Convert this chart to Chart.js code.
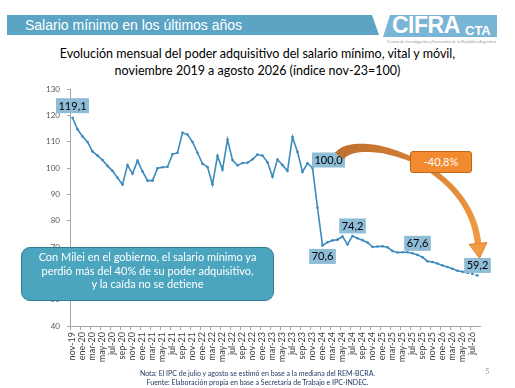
<!DOCTYPE html>
<html lang="es">
<head>
<meta charset="utf-8">
<script src="https://cdn.jsdelivr.net/npm/chart.js@4"></script>
<style>
  html, body { margin: 0; padding: 0; background: #fff; }
  body { width: 515px; height: 388px; position: relative; overflow: hidden; font-family: Lato, 'Open Sans', sans-serif; }
  #chart { position: absolute; left: 0; top: 0; }
  .band { position: absolute; left: 7px; top: 15px; width: 372px; height: 20px; background: #5ba4c4;
          clip-path: polygon(0 0, 365px 0, 372px 100%, 0 100%); }
  .band span { position: absolute; left: 18px; top: 2px; color: #fff; font: 14px 'Liberation Sans', Arial, sans-serif; }
  .logo { position: absolute; left: 383px; top: 15px; width: 114px; height: 22px; background: #79b5d6;
          clip-path: polygon(7px 0, 100% 0, 100% 100%, 0 100%); }
  .logo .big { position: absolute; left: 9px; top: -3px; color: #fff; font: bold 23px 'Liberation Sans', Arial, sans-serif; letter-spacing: -0.5px; }
  .logo .small { position: absolute; left: 82px; top: 8px; color: #fff; font: bold 13px 'Liberation Sans', Arial, sans-serif; }
  .logo-sub { position: absolute; left: 387px; top: 39px; color: #9a9a9a; font-size: 4px; white-space: nowrap; }
  .titulo { position: absolute; left: 0; top: 45px; width: 515px; text-align: center; font-size: 12.5px; line-height: 17px; color: #000; }
  .callout { position: absolute; left: 21px; top: 247px; width: 251px; height: 50px; background: #4ba5be;
             border: 1.5px solid #2f7c93; border-radius: 9px; color: #fff; text-align: center;
             font-size: 11px; line-height: 13.5px; padding-top: 2px; }
  .pct { position: absolute; left: 410px; top: 151px; width: 60px; height: 20px; background: #f28a30;
         border: 1px solid #c0661c; border-radius: 3px; color: #fff; text-align: center; font-size: 11px; line-height: 20px; }
  .notas { position: absolute; left: 0; top: 369px; width: 515px; text-align: center; font-size: 7px; line-height: 9px; color: #1f3864; }
  .pagina { position: absolute; left: 485px; top: 366px; font-size: 8px; color: #a6a6a6; }
</style>
</head>
<body>
<div class="band"><span>Salario mínimo en los últimos años</span></div>
<div class="logo"><span class="big">CIFRA</span><span class="small">CTA</span></div>
<div class="logo-sub">Centro de Investigación y Formación de la República Argentina</div>
<div class="titulo">Evolución mensual del poder adquisitivo del salario mínimo, vital y móvil,<br>noviembre 2019 a agosto 2026 (índice nov-23=100)</div>
<canvas id="chart" width="515" height="388"></canvas>
<div class="callout">Con Milei en el gobierno, el salario mínimo ya<br>perdió más del 40% de su poder adquisitivo,<br>y la caída no se detiene</div>
<div class="pct">-40,8%</div>
<div class="notas">Nota: El IPC de julio y agosto se estimó en base a la mediana del REM-BCRA.<br>Fuente: Elaboración propia en base a Secretaría de Trabajo e IPC-INDEC.</div>
<div class="pagina">5</div>

<script>
// meses (nov-19 a ago-26)
const meses = [
    'nov-19', 'dic-19',
    'ene-20', 'feb-20', 'mar-20', 'abr-20', 'may-20', 'jun-20', 'jul-20', 'ago-20', 'sep-20', 'oct-20', 'nov-20', 'dic-20',
    'ene-21', 'feb-21', 'mar-21', 'abr-21', 'may-21', 'jun-21', 'jul-21', 'ago-21', 'sep-21', 'oct-21', 'nov-21', 'dic-21',
    'ene-22', 'feb-22', 'mar-22', 'abr-22', 'may-22', 'jun-22', 'jul-22', 'ago-22', 'sep-22', 'oct-22', 'nov-22', 'dic-22',
    'ene-23', 'feb-23', 'mar-23', 'abr-23', 'may-23', 'jun-23', 'jul-23', 'ago-23', 'sep-23', 'oct-23', 'nov-23', 'dic-23',
    'ene-24', 'feb-24', 'mar-24', 'abr-24', 'may-24', 'jun-24', 'jul-24', 'ago-24', 'sep-24', 'oct-24', 'nov-24', 'dic-24',
    'ene-25', 'feb-25', 'mar-25', 'abr-25', 'may-25', 'jun-25', 'jul-25', 'ago-25', 'sep-25', 'oct-25', 'nov-25', 'dic-25',
    'ene-26', 'feb-26', 'mar-26', 'abr-26', 'may-26', 'jun-26', 'jul-26', 'ago-26'
];

// índice salario mínimo real (nov-23 = 100)
const indice = [
    119.1, 114.7,
    112.0, 109.9, 106.3, 104.7, 103.0, 100.8, 98.9, 96.3, 93.7, 101.1, 97.8, 102.8,
    98.7, 95.2, 95.2, 99.9, 100.3, 100.5, 105.2, 105.8, 113.4, 112.7, 109.9, 105.8,
    101.6, 100.4, 93.8, 104.6, 99.4, 110.8, 103.0, 101.0, 101.9, 102.0, 103.3, 105.1,
    104.7, 102.2, 96.7, 103.2, 101.1, 98.9, 111.8, 106.1, 98.5, 101.8, 100.0, 84.9,
    70.6, 71.8, 72.5, 72.8, 74.0, 71.0, 74.2, 73.3, 72.6, 71.7, 70.0, 70.2,
    70.3, 69.9, 68.5, 67.9, 68.0, 68.0, 67.6, 67.0, 66.1, 64.6, 64.3, 63.7,
    63.0, 62.4, 61.7, 61.0, 60.6, 60.2, 59.8, 59.2
];

// meses con IPC estimado (desde este índice la línea va punteada)
const desdeEstimado = 79;

// puntos con etiqueta
const puntosEtiqueta = [0, 48, 50, 56, 68, 81];
const yTicks = [40, 50, 60, 70, 80, 90, 100, 110, 120, 130];

const azul = '#3d8bbd';

// desplazamiento de cada etiqueta respecto de su punto
const posEtiqueta = {
    0: { dx: 0, dy: -12 },
    48: { dx: 16, dy: -8 },
    50: { dx: 0, dy: 11 },
    56: { dx: 0, dy: -10 },
    68: { dx: 5, dy: -10 },
    81: { dx: 0, dy: -10 }
};

const fmt = v => v.toFixed(1).replace('.', ',');

const etiquetasPlugin = {
    id: 'etiquetas',
    afterDatasetsDraw(chart) {
        const ctx = chart.ctx;
        const meta = chart.getDatasetMeta(0);
        ctx.save();
        ctx.font = '11px Lato';
        ctx.textAlign = 'center';
        ctx.textBaseline = 'middle';
        puntosEtiqueta.forEach(i => {
            const p = meta.data[i];
            const off = posEtiqueta[i];
            const txt = fmt(indice[i]);
            const w = ctx.measureText(txt).width + 5;
            const h = 15;
            const cx = p.x + off.dx;
            const cy = p.y + off.dy;
            ctx.fillStyle = '#8fbcd6';
            ctx.fillRect(cx - w / 2, cy - h / 2, w, h);
            ctx.fillStyle = '#000';
            ctx.fillText(txt, cx, cy + 0.5);
        });
        ctx.restore();
    }
};

// flecha curva naranja de 100,0 a 59,2
const flechaPlugin = {
    id: 'flecha',
    afterDraw(chart) {
        const ctx = chart.ctx;
        const xs = chart.scales.x, ys = chart.scales.y;
        const xa = xs.getPixelForValue(48), ya = ys.getPixelForValue(100);
        const xb = xs.getPixelForValue(81), yb = ys.getPixelForValue(59.2);
        const P0 = [xa + 27, ya - 12];
        const P1 = [xa + 45, ya - 36];
        const P2 = [xb - 8, ya - 7];
        const P3 = [xb + 0.5, yb - 32];
        const bez = t => {
            const u = 1 - t;
            return [
                u * u * u * P0[0] + 3 * u * u * t * P1[0] + 3 * u * t * t * P2[0] + t * t * t * P3[0],
                u * u * u * P0[1] + 3 * u * u * t * P1[1] + 3 * u * t * t * P2[1] + t * t * t * P3[1]
            ];
        };
        const der = t => {
            const u = 1 - t;
            return [
                3 * u * u * (P1[0] - P0[0]) + 6 * u * t * (P2[0] - P1[0]) + 3 * t * t * (P3[0] - P2[0]),
                3 * u * u * (P1[1] - P0[1]) + 6 * u * t * (P2[1] - P1[1]) + 3 * t * t * (P3[1] - P2[1])
            ];
        };
        const ancho = t => t < 0.5 ? 11 - 12 * t : 5 + 3 * (t - 0.5);
        const izq = [], der2 = [];
        const N = 60;
        for (let k = 0; k <= N; k++) {
            const t = k / N;
            const b = bez(t), d = der(t);
            const l = Math.hypot(d[0], d[1]);
            const n = [-d[1] / l, d[0] / l];
            const w = ancho(t) / 2;
            izq.push([b[0] + n[0] * w, b[1] + n[1] * w]);
            der2.push([b[0] - n[0] * w, b[1] - n[1] * w]);
        }
        ctx.save();
        const grad = ctx.createLinearGradient(P0[0], P0[1], P3[0], P3[1]);
        grad.addColorStop(0, '#c0702f');
        grad.addColorStop(1, '#f39a40');
        ctx.fillStyle = grad;
        ctx.beginPath();
        izq.forEach((p, k) => k ? ctx.lineTo(p[0], p[1]) : ctx.moveTo(p[0], p[1]));
        der2.reverse().forEach(p => ctx.lineTo(p[0], p[1]));
        ctx.closePath();
        ctx.fill();

        // punta
        const d = der(1);
        const l = Math.hypot(d[0], d[1]);
        const T = [d[0] / l, d[1] / l];
        const n = [-T[1], T[0]];
        ctx.fillStyle = '#f39a45';
        ctx.strokeStyle = '#cf7428';
        ctx.lineWidth = 0.8;
        ctx.beginPath();
        ctx.moveTo(P3[0] + n[0] * 9, P3[1] + n[1] * 9);
        ctx.lineTo(P3[0] + T[0] * 15, P3[1] + T[1] * 15);
        ctx.lineTo(P3[0] - n[0] * 9, P3[1] - n[1] * 9);
        ctx.closePath();
        ctx.fill();
        ctx.stroke();
        ctx.restore();
    }
};

new Chart(document.getElementById('chart'), {
    type: 'line',
    data: {
        labels: meses,
        datasets: [{
            data: indice,
            borderColor: azul,
            backgroundColor: azul,
            borderWidth: 1.6,
            pointRadius: 1.3,
            pointBorderWidth: 0,
            pointBackgroundColor: azul,
            tension: 0,
            segment: {
                borderDash: c => c.p0DataIndex >= desdeEstimado ? [2, 2] : undefined
            }
        }]
    },
    options: {
        responsive: false,
        animation: false,
        events: [],
        layout: { padding: { left: 40, right: 35, top: 89, bottom: 0 } },
        plugins: {
            legend: { display: false },
            tooltip: { enabled: false }
        },
        scales: {
            x: {
                type: 'category',
                offset: true,
                afterFit: s => { s.height = 62; },
                border: { color: '#a6a6a6' },
                grid: {
                    offset: true,
                    drawOnChartArea: false,
                    tickLength: 4,
                    color: c => c.index % 2 === 0 ? '#a6a6a6' : 'rgba(0,0,0,0)'
                },
                ticks: {
                    autoSkip: false,
                    maxRotation: 90,
                    minRotation: 90,
                    padding: 2,
                    color: '#404040',
                    font: { family: 'Lato', size: 9 },
                    callback: (v, i) => i % 2 === 0 ? meses[i] : ''
                }
            },
            y: {
                min: 40,
                max: 130,
                afterFit: s => { s.width = 30; },
                afterBuildTicks: s => { s.ticks = yTicks.map(v => ({ value: v })); },
                border: { color: '#a6a6a6' },
                grid: { drawOnChartArea: false, tickLength: 3, color: '#a6a6a6' },
                ticks: {
                    padding: 7,
                    color: '#595959',
                    font: { family: 'Lato', size: 8 }
                }
            }
        }
    },
    plugins: [etiquetasPlugin, flechaPlugin]
});
</script>
</body>
</html>
